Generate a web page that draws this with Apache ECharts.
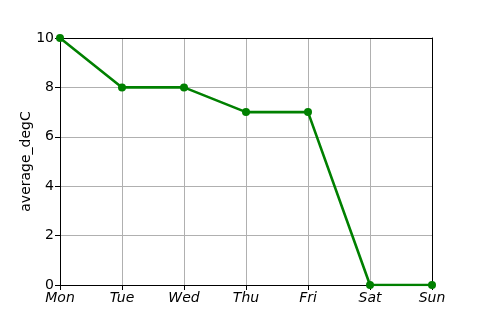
<!DOCTYPE html>
<html><head><meta charset="utf-8">
<script src="https://cdn.jsdelivr.net/npm/echarts@6/dist/echarts.min.js"></script>
<style>html,body{margin:0;padding:0;background:#fff}#c{width:480px;height:320px}</style>
</head><body><div id="c"></div>
<script>
const days = ['Mon','Tue','Wed','Thu','Fri','Sat','Sun'];
const averageDegC = [10, 8, 8, 7, 7, 0, 0];
const yTicks = [0, 2, 4, 6, 8, 10];

const chart = echarts.init(document.getElementById('c'), null, {renderer:'canvas'});
const font = 'DejaVu Sans';
const spine = {show: true, onZero: false, lineStyle: {color: '#000', width: 1}};
chart.setOption({
  animation: false,
  backgroundColor: '#fff',
  grid: {left: 60, right: 48, top: 38, bottom: 35},
  xAxis: [{
    type: 'category', data: days, boundaryGap: false,
    axisLine: spine,
    axisTick: {show: true, alignWithLabel: true, length: 5, lineStyle: {color: '#000'}},
    axisLabel: {color: '#000', fontFamily: font, fontSize: 14, fontStyle: 'italic', margin: 6},
    splitLine: {show: true, lineStyle: {color: '#b0b0b0', width: 1}}
  }, {
    type: 'category', data: days, boundaryGap: false, position: 'top',
    axisLine: spine, axisTick: {show: false}, axisLabel: {show: false}, splitLine: {show: false}
  }],
  yAxis: [{
    type: 'value', min: yTicks[0], max: yTicks[yTicks.length-1], interval: 2,
    name: 'average_degC', nameLocation: 'middle', nameGap: 27, nameMoveOverlap: false,
    nameTextStyle: {color: '#000', fontFamily: font, fontSize: 14},
    axisLine: spine,
    axisTick: {show: true, length: 5, lineStyle: {color: '#000'}},
    axisLabel: {color: '#000', fontFamily: font, fontSize: 14, margin: 6},
    splitLine: {show: true, lineStyle: {color: '#b0b0b0', width: 1}}
  }, {
    type: 'value', min: yTicks[0], max: yTicks[yTicks.length-1], interval: 2, position: 'right',
    axisLine: spine, axisTick: {show: false}, axisLabel: {show: false}, splitLine: {show: false}
  }],
  series: [{
    type: 'line', data: averageDegC, clip: true,
    lineStyle: {color: '#008000', width: 2.6},
    itemStyle: {color: '#008000'},
    symbol: 'circle', symbolSize: 8, showAllSymbol: true
  }]
});
</script></body></html>
